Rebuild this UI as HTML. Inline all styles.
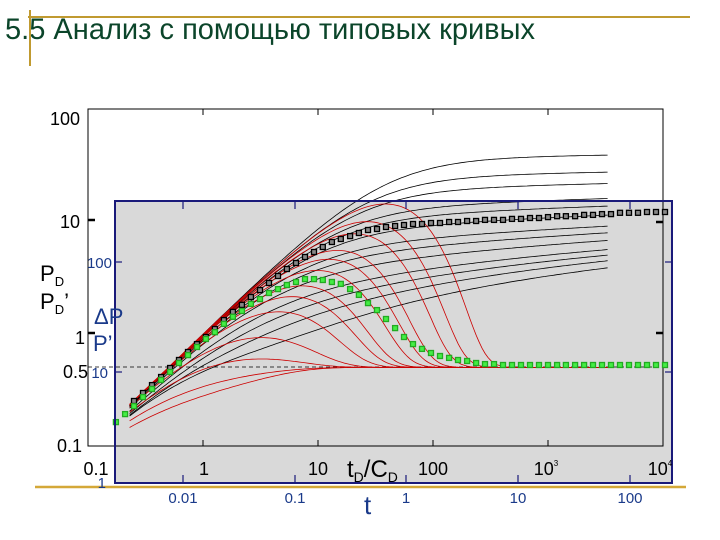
<!DOCTYPE html>
<html><head><meta charset="utf-8"><style>
html,body{margin:0;padding:0;background:#fff;}
svg{display:block;font-family:"Liberation Sans",sans-serif;}
</style></head><body>
<svg id="chart" width="720" height="540" viewBox="0 0 720 540" xmlns="http://www.w3.org/2000/svg">
<text x="5" y="39" font-size="30" fill="#0b452a" textLength="530" lengthAdjust="spacingAndGlyphs" font-family="'Liberation Sans','Noto Sans CJK SC',sans-serif">5.5 Анализ с помощью типовых кривых</text>
<line x1="28" y1="17" x2="690" y2="17" stroke="#c09a30" stroke-width="2"/>
<line x1="30" y1="10" x2="30" y2="66" stroke="#c09a30" stroke-width="2"/>
<line x1="35" y1="487" x2="686" y2="487" stroke="#d4a838" stroke-width="2.5"/>
<rect x="115" y="201" width="557" height="282" fill="#d9d9d9"/>
<rect x="88" y="109" width="575" height="337" fill="none" stroke="#000" stroke-width="1"/>
<line x1="88" y1="367" x2="663" y2="367" stroke="#000" stroke-width="0.8" stroke-dasharray="4,3"/>
<g id="curves"></g>
<g id="marks"></g>
<rect x="115" y="201" width="557" height="282" fill="none" stroke="#1a1a7a" stroke-width="2"/>
<g id="ticks" stroke="#000" stroke-width="2.5">
<line x1="88" y1="220" x2="95" y2="220"/><line x1="88" y1="333" x2="95" y2="333"/>
<line x1="656" y1="222" x2="663" y2="222"/><line x1="656" y1="333" x2="663" y2="333"/>
</g>
<g stroke="#000" stroke-width="1">
<line x1="203" y1="109" x2="203" y2="115"/><line x1="318" y1="109" x2="318" y2="115"/><line x1="433" y1="109" x2="433" y2="115"/><line x1="548" y1="109" x2="548" y2="115"/>
<line x1="203" y1="446" x2="203" y2="440"/><line x1="318" y1="446" x2="318" y2="440"/><line x1="433" y1="446" x2="433" y2="440"/><line x1="548" y1="446" x2="548" y2="440"/>
</g>
<g stroke="#1a1a7a" stroke-width="1.2">
<line x1="183" y1="201" x2="183" y2="209"/><line x1="295" y1="201" x2="295" y2="209"/><line x1="406" y1="201" x2="406" y2="209"/><line x1="518" y1="201" x2="518" y2="209"/><line x1="630" y1="201" x2="630" y2="209"/>
<line x1="183" y1="483" x2="183" y2="475"/><line x1="295" y1="483" x2="295" y2="475"/><line x1="406" y1="483" x2="406" y2="475"/><line x1="518" y1="483" x2="518" y2="475"/><line x1="630" y1="483" x2="630" y2="475"/>
<line x1="115" y1="262" x2="122" y2="262"/><line x1="115" y1="372" x2="122" y2="372"/>
<line x1="672" y1="262" x2="665" y2="262"/><line x1="672" y1="372" x2="665" y2="372"/>
</g>
<g font-size="18" fill="#000">
<text x="80" y="125" text-anchor="end">100</text>
<text x="80" y="228" text-anchor="end">10</text>
<text x="85" y="344" text-anchor="end">1</text>
<text x="88" y="378" text-anchor="end">0.5</text>
<text x="82" y="452" text-anchor="end">0.1</text>
</g>
<g font-size="18" fill="#000" text-anchor="middle">
<text x="96" y="475">0.1</text>
<text x="204" y="475">1</text>
<text x="318" y="475">10</text>
<text x="433" y="475">100</text>
<text x="546" y="475">10<tspan font-size="8" dy="-9">3</tspan></text>
<text x="660" y="475">10<tspan font-size="8" dy="-9">4</tspan></text>
</g>
<text x="40" y="281" font-size="22">P<tspan font-size="13" dy="5">D</tspan></text>
<text x="40" y="309" font-size="22">P<tspan font-size="13" dy="5">D</tspan><tspan dy="-5">’</tspan></text>
<text x="347" y="477" font-size="24">t<tspan font-size="14" dy="5">D</tspan><tspan dy="-5">/C</tspan><tspan font-size="14" dy="5">D</tspan></text>
<g fill="#1a3a8a" font-size="15">
<text x="112" y="268" text-anchor="end">100</text>
<text x="108" y="378" text-anchor="end">10</text>
<text x="106" y="488" text-anchor="end">1</text>
<text x="183" y="503" text-anchor="middle">0.01</text>
<text x="295" y="503" text-anchor="middle">0.1</text>
<text x="406" y="503" text-anchor="middle">1</text>
<text x="518" y="503" text-anchor="middle">10</text>
<text x="630" y="503" text-anchor="middle">100</text>
</g>
<text x="94" y="324" font-size="22" fill="#1a3a8a">ΔP</text>
<text x="93" y="351" font-size="22" fill="#1a3a8a">P’</text>
<text x="364" y="514" font-size="26" fill="#1a3a8a">t</text>
</svg>
<script>
const tMarks=[0.175,0.210,0.251,0.301,0.360,0.432,0.517,0.618,0.741,0.887,1.06,1.27,1.52,1.82,2.18,2.61,3.13,3.75,4.49,5.37,6.44,7.71,9.23,11.0,13.2,15.8,19.0,22.7,27.2,32.6,39.0,46.8,56.0,67.0,80.2,96.1,115,138,165,198,237,283,339,406,486,582,697,835,1000,1200,1430,1720,2060,2460,2950,3530,4230,5060,6060,7260,8690,10400];
const pressureMarks=[null,null,0.251,0.296,0.348,0.411,0.494,0.582,0.686,0.807,0.933,1.10,1.32,1.56,1.80,2.12,2.44,2.82,3.26,3.76,4.25,4.81,5.33,5.90,6.54,6.95,7.39,7.87,8.37,8.54,8.90,9.08,9.27,9.46,9.46,9.66,9.66,9.86,9.86,10.07,10.07,10.3,10.3,10.3,10.5,10.5,10.7,10.7,10.9,11.1,11.1,11.1,11.4,11.4,11.6,11.6,11.9,11.9,11.9,12.1,12.1,12.1];
const derivMarks=[0.163,0.192,0.226,0.272,0.321,0.386,0.455,0.547,0.644,0.760,0.895,1.03,1.22,1.41,1.59,1.84,2.03,2.30,2.49,2.71,2.88,3.06,3.06,3.00,2.88,2.77,2.49,2.21,1.87,1.62,1.35,1.12,0.933,0.807,0.730,0.672,0.632,0.607,0.582,0.570,0.547,0.535,0.535,0.525,0.525,0.525,0.525,0.525,0.525,0.525,0.525,0.525,0.525,0.525,0.525,0.525,0.525,0.525,0.525,0.525,0.525,0.525];
const curveCDe2s=[1e30,1e20,1e15,1e10,1e8,1e6,1e4,1e3,1e2,10,3,1,0.3];
const curveTStart=0.23;
const curveTEnd=3300;

const NS='http://www.w3.org/2000/svg';
function xScale(t){return 88+115*(Math.log10(t)+1);}
function yScale(v){return 109+112.3*(2-Math.log10(v));}
function radial(t,C){return 0.5*Math.log(Math.exp(1.2)+2.2458*C*t);}
function pd(t,C){const R=radial(t,C);const n=1.2;return Math.pow(Math.pow(t,-n)+Math.pow(R,-n),-1/n);}
function tau(C){let x=1;for(let i=0;i<40;i++)x=radial(x,C);return x;}
function pdDeriv(t,C){const T=tau(C);const k=0.6*T*T;const e=Math.exp(-t/(T+3));
  return t/(1+t/k)*e+0.5*(1-e);}
const curves=document.getElementById('curves');
const marks=document.getElementById('marks');
function curvePath(fn,C){let d='';const N=160;const a=Math.log10(curveTStart),b=Math.log10(curveTEnd);
for(let i=0;i<=N;i++){const t=Math.pow(10,a+(b-a)*i/N);const v=fn(t,C);d+=(i?'L':'M')+xScale(t).toFixed(1)+','+yScale(v).toFixed(1);}return d;}
curveCDe2s.forEach((C,i)=>{
  const p=document.createElementNS(NS,'path');
  p.setAttribute('d',curvePath(pd,C));p.setAttribute('fill','none');p.setAttribute('stroke','#000');p.setAttribute('stroke-width','0.8');
  
  
  curves.appendChild(p);
});
curveCDe2s.forEach((C,i)=>{
  const p=document.createElementNS(NS,'path');
  p.setAttribute('d',curvePath(pdDeriv,C));p.setAttribute('fill','none');p.setAttribute('stroke','#cc0000');p.setAttribute('stroke-width','0.8');
  
  
  curves.appendChild(p);
});
function addMark(t,v,fill,stroke,name){
  const r=document.createElementNS(NS,'rect');
  r.setAttribute('x',(xScale(t)-2.5).toFixed(1));r.setAttribute('y',(yScale(v)-2.5).toFixed(1));
  r.setAttribute('width','5');r.setAttribute('height','5');r.setAttribute('fill',fill);r.setAttribute('stroke',stroke);r.setAttribute('stroke-width','1.3');
  
  
  marks.appendChild(r);
}
tMarks.forEach((t,i)=>{if(pressureMarks[i]!=null)addMark(t,pressureMarks[i],'#888','#000','pressure-data-point');});
tMarks.forEach((t,i)=>{if(derivMarks[i]!=null)addMark(t,derivMarks[i],'#44ee44','#22aa22','derivative-data-point');});
</script>
</body></html>
